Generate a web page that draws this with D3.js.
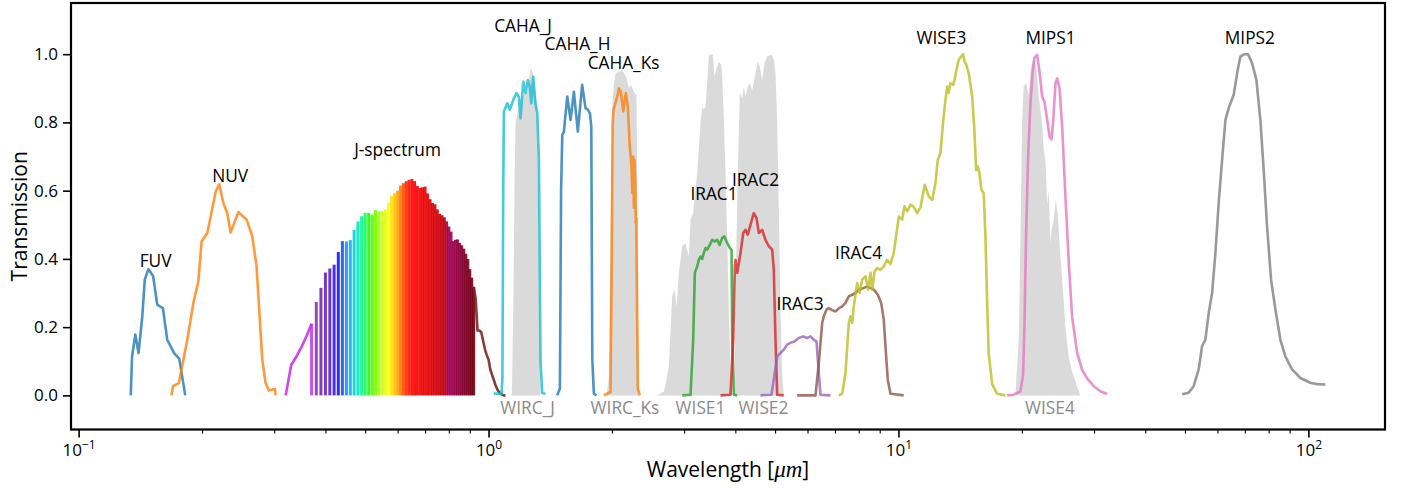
<!DOCTYPE html>
<html>
<head>
<meta charset="utf-8">
<script src="https://cdn.jsdelivr.net/npm/d3@7"></script>
<style>
  html, body { margin: 0; padding: 0; background: #fff; }
  svg { display: block; font-family: "Open Sans", sans-serif; }
</style>
</head>
<body>
<svg id="chart" width="1402" height="488"></svg>
<script>
// ---- Filter transmission curves: [wavelength (µm), transmission] ----
const fuv = [[0.134,0],[0.135,0.114],[0.1375,0.178],[0.140,0.124],[0.143,0.232],[0.145,0.339],[0.148,0.370],[0.152,0.349],[0.1555,0.266],[0.1605,0.256],[0.1645,0.163],[0.171,0.124],[0.176,0.107],[0.182,0]];
const nuv = [[0.1685,0],[0.1698,0.027],[0.1756,0.036],[0.1841,0.163],[0.1905,0.271],[0.1959,0.334],[0.1995,0.451],[0.2060,0.476],[0.2107,0.534],[0.2159,0.597],[0.2204,0.619],[0.2254,0.564],[0.2305,0.534],[0.2348,0.477],[0.2452,0.537],[0.2569,0.515],[0.2653,0.466],[0.2717,0.378],[0.2805,0.105],[0.2858,0.036],[0.2911,0.014],[0.3011,0.019],[0.3023,0]];

// J-band spectrum sampled every 0.01 µm
const jSpectrum = [[0.32,0.0],[0.33,0.089],[0.34,0.114],[0.35,0.143],[0.36,0.175],[0.37,0.21],[0.38,0.274],[0.39,0.315],[0.40,0.36],[0.41,0.372],[0.42,0.383],[0.43,0.42],[0.44,0.452],[0.45,0.451],[0.46,0.455],[0.47,0.485],[0.48,0.51],[0.49,0.525],[0.50,0.535],[0.51,0.535],[0.52,0.53],[0.53,0.543],[0.54,0.54],[0.55,0.54],[0.56,0.545],[0.57,0.565],[0.58,0.585],[0.59,0.592],[0.60,0.60],[0.61,0.615],[0.62,0.622],[0.63,0.628],[0.64,0.632],[0.65,0.634],[0.66,0.628],[0.67,0.614],[0.68,0.608],[0.69,0.61],[0.70,0.612],[0.71,0.592],[0.72,0.575],[0.73,0.564],[0.74,0.56],[0.75,0.545],[0.76,0.532],[0.77,0.528],[0.78,0.522],[0.79,0.51],[0.80,0.495],[0.81,0.48],[0.82,0.452],[0.83,0.456],[0.84,0.457],[0.85,0.447],[0.86,0.44],[0.87,0.43],[0.88,0.415],[0.89,0.40],[0.90,0.37],[0.91,0.345],[0.92,0.318],[0.93,0.285],[0.94,0.19],[0.95,0.19],[0.96,0.185],[0.97,0.16],[0.98,0.135],[0.99,0.118],[1.00,0.105],[1.01,0.075],[1.02,0.06],[1.03,0.045],[1.04,0.03],[1.05,0.018],[1.06,0.01],[1.07,0.005],[1.08,0.002],[1.09,0.0],[1.10,0.0]];

const cahaJ = [[1.03,0.005],[1.076,0.005],[1.081,0.05],[1.086,0.6],[1.090,0.832],[1.111,0.856],[1.127,0.837],[1.149,0.866],[1.170,0.886],[1.185,0.876],[1.197,0.812],[1.215,0.919],[1.231,0.886],[1.247,0.924],[1.261,0.905],[1.271,0.856],[1.285,0.934],[1.300,0.856],[1.315,0.827],[1.327,0.69],[1.339,0.10],[1.352,0.007],[1.377,0.005]];
const cahaH = [[1.470,0.0],[1.493,0.02],[1.503,0.6],[1.513,0.763],[1.527,0.773],[1.556,0.876],[1.585,0.807],[1.615,0.890],[1.651,0.773],[1.692,0.910],[1.724,0.842],[1.747,0.837],[1.767,0.827],[1.781,0.788],[1.791,0.105],[1.807,0.005],[1.834,0.0]];
const cahaKs = [[1.911,0.0],[1.984,0.01],[1.998,0.4],[2.008,0.80],[2.018,0.837],[2.061,0.876],[2.080,0.900],[2.103,0.890],[2.131,0.832],[2.162,0.886],[2.187,0.846],[2.211,0.729],[2.233,0.671],[2.242,0.593],[2.254,0.700],[2.262,0.55],[2.271,0.690],[2.280,0.62],[2.287,0.505],[2.293,0.52],[2.303,0.25],[2.313,0.02],[2.339,0.0]];

const irac1 = [[2.968,0.0],[3.110,0.002],[3.157,0.163],[3.186,0.359],[3.228,0.378],[3.258,0.397],[3.289,0.407],[3.320,0.40],[3.350,0.417],[3.383,0.432],[3.415,0.427],[3.465,0.441],[3.512,0.456],[3.558,0.451],[3.613,0.456],[3.660,0.441],[3.715,0.461],[3.763,0.466],[3.822,0.446],[3.878,0.432],[3.916,0.427],[3.930,0.163],[3.966,0.002],[4.043,0.0]];
const irac2 = [[3.680,0.0],[3.893,0.002],[3.952,0.163],[3.990,0.38],[4.004,0.397],[4.043,0.359],[4.118,0.417],[4.181,0.476],[4.235,0.485],[4.290,0.471],[4.355,0.500],[4.437,0.534],[4.505,0.52],[4.564,0.476],[4.651,0.485],[4.738,0.456],[4.827,0.437],[4.920,0.427],[4.964,0.368],[5.012,0.163],[5.060,0.002],[5.250,0.0]];
const irac3 = [[4.607,0.0],[4.90,0.002],[4.984,0.06],[5.060,0.114],[5.154,0.124],[5.250,0.134],[5.352,0.149],[5.452,0.154],[5.576,0.158],[5.713,0.168],[5.857,0.173],[5.987,0.168],[6.101,0.173],[6.215,0.163],[6.310,0.158],[6.392,0.066],[6.453,0.002],[6.826,0.0]];
const irac4 = [[5.66,0.0],[6.275,0.0],[6.392,0.094],[6.515,0.212],[6.574,0.232],[6.674,0.251],[6.761,0.256],[6.891,0.25],[7.021,0.246],[7.153,0.255],[7.291,0.261],[7.427,0.271],[7.566,0.29],[7.712,0.295],[7.856,0.30],[8.004,0.31],[8.234,0.315],[8.389,0.319],[8.547,0.315],[8.707,0.31],[8.904,0.295],[9.075,0.271],[9.208,0.222],[9.297,0.144],[9.417,0.046],[9.562,0.005],[10.30,0.0]];
const wise3 = [[7.153,0.0],[7.291,0.005],[7.427,0.066],[7.566,0.212],[7.638,0.232],[7.712,0.212],[7.780,0.261],[7.930,0.329],[8.046,0.30],[8.155,0.339],[8.310,0.349],[8.437,0.31],[8.547,0.359],[8.629,0.31],[8.740,0.363],[8.872,0.373],[9.040,0.368],[9.208,0.378],[9.384,0.397],[9.562,0.385],[9.739,0.417],[10.02,0.524],[10.21,0.515],[10.34,0.554],[10.50,0.539],[10.70,0.559],[10.90,0.552],[11.11,0.534],[11.32,0.552],[11.59,0.617],[11.86,0.583],[12.09,0.573],[12.31,0.622],[12.47,0.69],[12.66,0.71],[12.82,0.788],[13.02,0.866],[13.15,0.905],[13.26,0.886],[13.39,0.915],[13.60,0.91],[13.70,0.924],[13.85,0.954],[14.03,0.983],[14.22,0.993],[14.38,1.0],[14.49,0.98],[14.65,0.968],[14.84,0.944],[15.13,0.876],[15.32,0.778],[15.47,0.661],[15.61,0.671],[15.76,0.651],[15.94,0.602],[16.14,0.593],[16.30,0.466],[16.46,0.271],[16.60,0.124],[16.93,0.032],[17.41,0.005],[18.24,0.0]];
const mips1 = [[18.41,0.0],[19.10,0.002],[19.84,0.012],[20.14,0.06],[20.29,0.20],[20.49,0.48],[20.72,0.70],[20.99,0.856],[21.26,0.95],[21.47,0.99],[21.79,0.998],[22.08,0.95],[22.41,0.876],[22.70,0.861],[23.05,0.81],[23.39,0.756],[23.62,0.75],[23.84,0.80],[24.16,0.915],[24.39,0.929],[24.71,0.90],[25.08,0.79],[25.55,0.58],[26.03,0.39],[26.53,0.23],[27.28,0.125],[28.06,0.075],[28.86,0.05],[29.95,0.027],[31.10,0.012],[32.28,0.004]];
const mips2 = [[49.21,0.003],[51.05,0.008],[52.50,0.027],[54.00,0.076],[55.04,0.144],[56.08,0.163],[57.13,0.241],[58.23,0.30],[59.32,0.417],[60.43,0.564],[61.60,0.69],[62.75,0.807],[63.92,0.842],[65.74,0.881],[67.24,0.954],[68.26,0.993],[69.82,1.0],[71.28,1.0],[72.91,0.973],[74.69,0.924],[76.38,0.807],[77.80,0.661],[79.30,0.495],[81.10,0.339],[83.10,0.251],[85.47,0.163],[87.90,0.114],[91.24,0.076],[95.62,0.051],[101.1,0.037],[105.0,0.033],[110.0,0.032]];

// Comparison filters drawn as shaded areas
const wircJ = [[1.140,0],[1.150,0.3],[1.158,0.65],[1.164,0.80],[1.197,0.87],[1.243,0.89],[1.266,0.96],[1.285,0.94],[1.297,0.91],[1.315,0.85],[1.327,0.55],[1.339,0]];
const wircKs = [[1.940,0],[1.965,0.05],[1.985,0.5],[2.005,0.85],[2.021,0.91],[2.041,0.944],[2.080,0.949],[2.119,0.954],[2.171,0.93],[2.199,0.90],[2.228,0.91],[2.262,0.89],[2.296,0.88],[2.313,0.4],[2.326,0]];
const wise1 = [[2.58,0.0],[2.68,0.012],[2.753,0.085],[2.805,0.29],[2.843,0.31],[2.875,0.26],[2.912,0.359],[2.968,0.437],[3.024,0.446],[3.080,0.407],[3.110,0.515],[3.157,0.534],[3.228,0.651],[3.289,0.798],[3.320,0.846],[3.350,0.837],[3.383,0.846],[3.415,0.915],[3.446,0.993],[3.479,1.0],[3.524,0.998],[3.558,0.934],[3.592,0.954],[3.645,0.978],[3.695,0.968],[3.715,0.934],[3.749,0.817],[3.785,0.65],[3.822,0.455],[3.856,0.26],[3.893,0.065],[3.930,0.0]];
const wise2 = [[3.966,0.0],[4.004,0.3],[4.055,0.651],[4.102,0.886],[4.157,0.871],[4.195,0.905],[4.235,0.876],[4.290,0.905],[4.338,0.915],[4.398,0.895],[4.479,0.944],[4.538,0.978],[4.589,0.963],[4.651,0.924],[4.711,0.973],[4.784,0.993],[4.892,0.998],[4.964,0.985],[5.012,0.944],[5.060,0.798],[5.105,0.554],[5.154,0.26],[5.203,0.06],[5.250,0.0]];
const wise4 = [[19.29,0.0],[19.65,0.163],[19.84,0.456],[20.03,0.798],[20.21,0.905],[20.49,0.915],[20.78,0.88],[21.07,0.96],[21.38,0.993],[21.71,0.96],[21.99,0.876],[22.41,0.798],[22.61,0.72],[22.84,0.69],[23.05,0.56],[23.26,0.60],[23.49,0.446],[23.62,0.48],[23.93,0.515],[24.20,0.573],[24.47,0.53],[24.84,0.407],[25.22,0.30],[25.55,0.20],[26.03,0.11],[26.53,0.07],[27.28,0.025],[27.80,0.0]];

// Curve names, data and colours
const curveNames  = ["FUV","NUV","CAHA_J","CAHA_H","CAHA_Ks","IRAC1","IRAC2","IRAC3","IRAC4","WISE3","MIPS1","MIPS2"];
const curveData   = [fuv, nuv, cahaJ, cahaH, cahaKs, irac1, irac2, irac3, irac4, wise3, mips1, mips2];
const curveColors = ["#1f77b4","#ff7f0e","#17becf","#1f77b4","#ff7f0e","#2ca02c","#d62728","#9467bd","#8c564b","#bcbd22","#e377c2","#7f7f7f"];
const bandNames = ["WIRC_J","WIRC_Ks","WISE1","WISE2","WISE4"];
const bandData  = [wircJ, wircKs, wise1, wise2, wise4];

// Label anchors in data coordinates [wavelength, transmission]
const curveLabels = [["FUV",0.1541,0.377],["NUV",0.2342,0.626],["J-spectrum",0.5998,0.702],["CAHA_J",1.214,1.065],["CAHA_H",1.648,1.012],["CAHA_Ks",2.135,0.957],["IRAC1",3.548,0.573],["IRAC2",4.479,0.614],["IRAC3",5.752,0.251],["IRAC4",7.99,0.400],["WISE3",12.73,1.030],["MIPS1",23.49,1.030],["MIPS2",72.0,1.030]];
const bandLabels = [["WIRC_J",1.245,-0.056],["WIRC_Ks",2.152,-0.056],["WISE1",3.289,-0.056],["WISE2",4.685,-0.056],["WISE4",23.42,-0.056]];

const yTicks = [0.0, 0.2, 0.4, 0.6, 0.8, 1.0];
const xMajorTicks = [0.1, 1, 10, 100];

// ---- Layout ----
const L = 71, R = 1385, T = 3, B = 429.5;
const svg = d3.select("#chart");
const x = d3.scaleLog().domain([0.0958, 153.8]).range([L, R]);
const y = d3.scaleLinear().domain([-0.1, 1.15]).range([B, T]);

const line = d3.line().x(d => x(d[0])).y(d => y(d[1]));
const area = d3.area().x(d => x(d[0])).y0(y(0)).y1(d => y(d[1]));

const plot = svg.append("g");

// Shaded comparison bands
plot.selectAll("path.band").data(bandData).enter().append("path")
  .attr("class", "band")
  .attr("d", area)
  .attr("fill", "#d3d3d3")
  .attr("fill-opacity", 0.85);

// Rainbow spectrum: one vertical stroke per sample, coloured by wavelength
const specStops  = [0.37,0.385,0.41,0.43,0.45,0.47,0.49,0.51,0.55,0.57,0.60,0.63,0.65,0.72,0.78,0.80,0.84,0.92];
const specColors = ["#c040f0","#7a2aa8","#5a22cc","#1414ff","#1890ff","#00d0e0","#00ff90","#20ff00","#c8ff00","#ffff00","#ffa000","#ff2800","#ff0000","#e00000","#c00010","#a0005a","#900040","#700010"];
const specColor = d3.scaleLinear().domain(specStops).range(specColors).interpolate(d3.interpolateRgb).clamp(true);

const visible = jSpectrum.filter(d => d[0] >= 0.3695 && d[0] <= 0.9205);
plot.selectAll("line.spec").data(visible).enter().append("line")
  .attr("class", "spec")
  .attr("x1", d => x(d[0])).attr("x2", d => x(d[0]))
  .attr("y1", y(0)).attr("y2", d => y(d[1]))
  .attr("stroke", d => specColor(d[0]))
  .attr("stroke-width", 3)
  .attr("stroke-opacity", 0.9);

// Spectrum tails outside the visible range
plot.append("path").attr("d", line(jSpectrum.filter(d => d[0] <= 0.3705)))
  .attr("fill", "none").attr("stroke", "#c832f0").attr("stroke-width", 2.6).attr("stroke-opacity", 0.9)
  .attr("stroke-linejoin", "round");
plot.append("path").attr("d", line(jSpectrum.filter(d => d[0] >= 0.9195)))
  .attr("fill", "none").attr("stroke", "#7a2626").attr("stroke-width", 2.6).attr("stroke-opacity", 0.9)
  .attr("stroke-linejoin", "round");

// Filter curves
plot.selectAll("path.curve").data(curveData).enter().append("path")
  .attr("class", "curve")
  .attr("d", line)
  .attr("fill", "none")
  .attr("stroke", (d, i) => curveColors[i])
  .attr("stroke-opacity", 0.8)
  .attr("stroke-width", 2.6)
  .attr("stroke-linejoin", "round");

// Labels
svg.append("g").selectAll("text").data(curveLabels).enter().append("text")
  .attr("x", d => x(d[1])).attr("y", d => y(d[2]))
  .attr("text-anchor", "middle")
  .attr("font-size", 17.3)
  .attr("fill", "#000")
  .text(d => d[0]);
svg.append("g").selectAll("text").data(bandLabels).enter().append("text")
  .attr("x", d => x(d[1])).attr("y", d => y(d[2]))
  .attr("text-anchor", "middle")
  .attr("font-size", 17.3)
  .attr("fill", "#8a8a8a")
  .text(d => d[0]);

// ---- Axes ----
const gy = svg.append("g").attr("transform", `translate(${L},0)`)
  .call(d3.axisLeft(y).tickValues(yTicks).tickFormat(d3.format(".1f")).tickSize(8).tickPadding(5));
gy.select(".domain").remove();
gy.attr("font-size", 17).attr("font-family", "Open Sans");
gy.selectAll("line").attr("stroke", "#000").attr("stroke-width", 1.6);
gy.selectAll("text").attr("fill", "#000");

const minorTicks = [];
[-1, 0, 1, 2].forEach(e => { for (let k = 2; k <= 9; k++) { const v = k * Math.pow(10, e); if (v > 0.0958 && v < 153.8) minorTicks.push(v); } });

const gxMinor = svg.append("g").attr("transform", `translate(0,${B})`)
  .call(d3.axisBottom(x).tickValues(minorTicks).tickFormat("").tickSize(4));
gxMinor.select(".domain").remove();
gxMinor.selectAll("line").attr("stroke", "#000").attr("stroke-width", 1.1);

const gx = svg.append("g").attr("transform", `translate(0,${B})`)
  .call(d3.axisBottom(x).tickValues(xMajorTicks).tickFormat("").tickSize(8));
gx.select(".domain").remove();
gx.selectAll("line").attr("stroke", "#000").attr("stroke-width", 1.6);
gx.selectAll(".tick text").each(function(d) {
  const t = d3.select(this);
  const e = Math.round(Math.log10(d));
  t.attr("y", 26.5).attr("dy", null).attr("fill", "#000")
   .attr("font-size", 17).attr("font-family", "Open Sans");
  t.append("tspan").text("10");
  t.append("tspan").attr("font-size", 12).attr("dy", -7).text(e < 0 ? "\u2212" + Math.abs(e) : String(e));
});

// Frame
svg.append("rect").attr("x", L).attr("y", T).attr("width", R - L).attr("height", B - T)
  .attr("fill", "none").attr("stroke", "#000").attr("stroke-width", 2.2);

// Axis titles
const xt = svg.append("text").attr("x", (L + R) / 2).attr("y", 477)
  .attr("text-anchor", "middle").attr("font-size", 21).attr("fill", "#000");
xt.append("tspan").text("Wavelength [");
xt.append("tspan").attr("font-family", "Liberation Serif").attr("font-style", "italic").attr("font-size", 23).text("\u03bcm");
xt.append("tspan").text("]");

svg.append("text").attr("transform", `translate(27,${(T + B) / 2}) rotate(-90)`)
  .attr("text-anchor", "middle").attr("font-size", 21).attr("fill", "#000")
  .text("Transmission");
</script>
</body>
</html>
